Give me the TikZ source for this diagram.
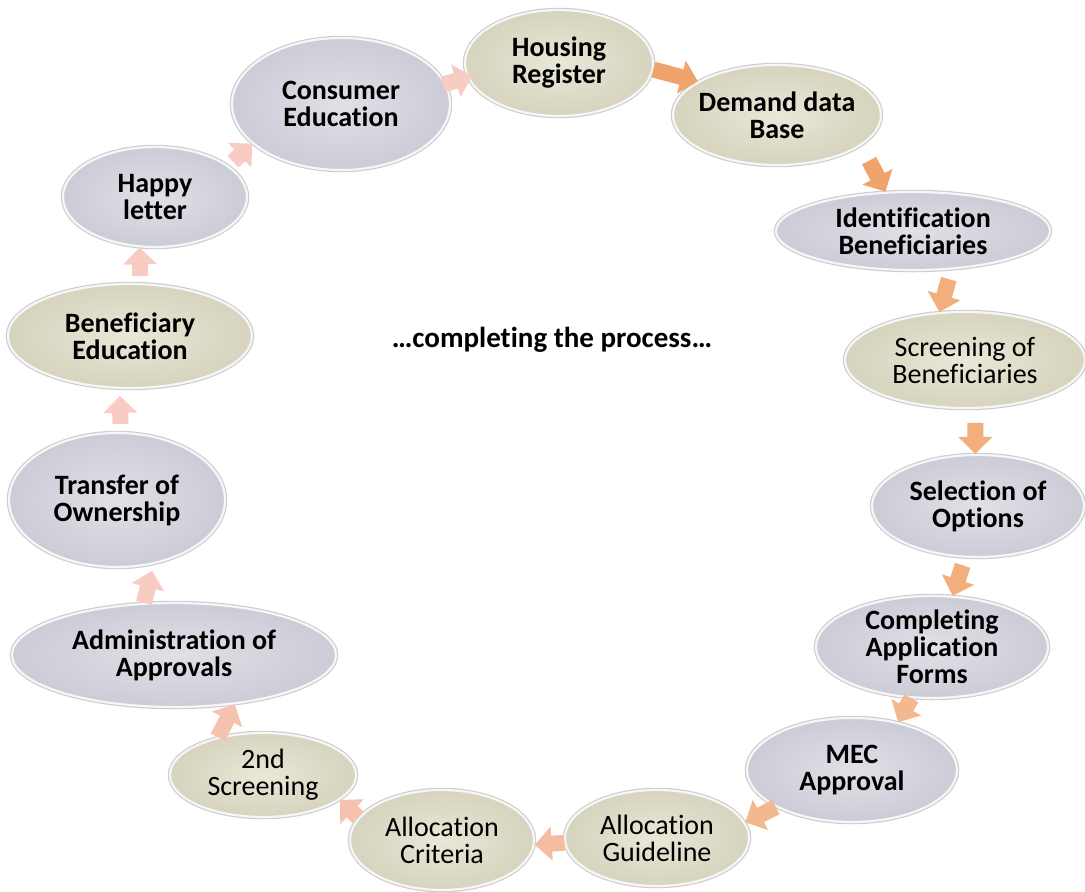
\documentclass[tikz,border=0pt]{standalone}
\usepackage{fontspec}
\setmainfont{Carlito}[Ligatures=NoCommon]
\usetikzlibrary{shapes.geometric,arrows.meta}
\definecolor{gin}{RGB}{224,224,230}
\definecolor{gout}{RGB}{204,204,216}
\definecolor{bin}{RGB}{233,231,215}
\definecolor{bout}{RGB}{214,212,190}
\definecolor{rimc}{RGB}{246,246,246}
\definecolor{halo}{RGB}{205,205,205}
\definecolor{ca}{RGB}{240,163,108}
\definecolor{cb}{RGB}{242,174,124}
\definecolor{cc}{RGB}{244,184,142}
\definecolor{cd}{RGB}{245,188,160}
\definecolor{ce}{RGB}{246,194,176}
\definecolor{cf}{RGB}{248,204,194}
\tikzset{
  bub/.style={ellipse, inner sep=0pt, align=center, draw=rimc, line width=2.2pt,
    preaction={draw=halo, line width=4.5pt},
    font=\fontsize{28}{27}\selectfont\bfseries},
  gbub/.style={bub, inner color=gin, outer color=gout},
  bbub/.style={bub, inner color=bin, outer color=bout},
  reg/.style={font=\fontsize{28}{27}\selectfont},
  blk/.style={line width=16pt, -{Triangle[width=33pt,length=17pt]}},
  midtext/.style={font=\fontsize{29}{30}\selectfont\bfseries},
}
\begin{document}
\begin{tikzpicture}[x=1pt,y=-1pt]
\useasboundingbox (0,0) rectangle (1085,892);
% nodes
\node[bbub, minimum width=188pt, minimum height=106pt] (H) at (559,63) {Housing\\Register};
\node[bbub, inner xsep=-5pt, minimum width=208pt, minimum height=100pt] (D) at (777,115) {Demand data\\Base};
\node[gbub, inner ysep=-2pt, minimum width=274pt, minimum height=78pt] (I) at (913,231) {Identification\\Beneficiaries};
\node[bbub, reg, minimum width=240pt, minimum height=96pt] (S) at (965,360) {Screening of\\Beneficiaries};
\node[gbub, minimum width=212pt, minimum height=102pt] (Sel) at (978,506) {Selection of\\Options};
\node[gbub, inner ysep=-7pt, minimum width=232pt, minimum height=102pt] (C) at (932,647) {Completing\\Application\\Forms};
\node[gbub, minimum width=210pt, minimum height=104pt] (M) at (852,770) {MEC\\Approval};
\node[bbub, reg, minimum width=184pt, minimum height=96pt] (G) at (657,838) {Allocation\\Guideline};
\node[bbub, reg, minimum width=184pt, minimum height=100pt] (Cr) at (442,840) {Allocation\\Criteria};
\node[bbub, reg, minimum width=186pt, minimum height=84pt] (N) at (263,775) {2nd\\Screening};
\node[gbub, minimum width=324pt, minimum height=104pt] (A) at (174,655) {Administration of\\Approvals};
\node[gbub, minimum width=216pt, minimum height=134pt] (T) at (117,500) {Transfer of\\Ownership};
\node[bbub, minimum width=244pt, minimum height=104pt] (B) at (130,336) {Beneficiary\\Education};
\node[gbub, minimum width=184pt, minimum height=100pt] (Hp) at (155,197) {Happy\\letter};
\node[gbub, minimum width=218pt, minimum height=132pt] (Co) at (341,104) {Consumer\\Education};
\node[midtext] (mid) at (552,340) {…completing the process…};
% arrows
\draw[blk, draw=cf, shorten <=-3pt, shorten >=-5pt] (Co.11) -- (H.-171);
\draw[blk, draw=ca] (H.-4) -- (D.157);
\draw[blk, draw=ca, shorten <=17pt] (D.-20) -- (I.125);
\draw[blk, draw=cb, shorten <=10pt] (I.-45) -- (S.118);
\draw[blk, draw=cb, shorten <=14pt] (S.-78) -- (Sel.93);
\draw[blk, draw=cb, shorten <=8pt] (Sel.-104) -- (C.68);
\draw[blk, draw=cc] (C.-112) -- (M.46);
\draw[blk, draw=cc] (M.206) -- (G.10);
\draw[blk, draw=cd] (G.183) -- (Cr.-3);
\draw[blk, draw=ce] (Cr.165) -- (N.-18);
\draw[blk, draw=ce] (N.140) -- (A.-39);
\draw[blk, draw=cf, shorten >=7pt] (A.120) -- (T.-60);
\draw[blk, draw=cf, shorten <=8pt, shorten >=7pt] (T.87) -- (B.-101);
\draw[blk, draw=cf, shorten <=7pt] (B.79) -- (Hp.-107);
\draw[blk, draw=cf, shorten <=6pt] (Hp.23) -- (Co.-156);
\end{tikzpicture}
\end{document}
